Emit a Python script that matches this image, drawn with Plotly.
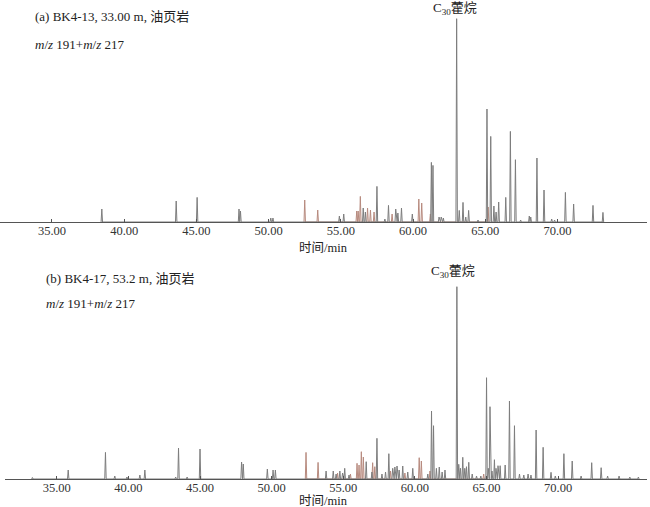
import plotly.graph_objects as go

# ---------------- data (retention time / min, relative intensity) ----------------
# Panel (a) BK4-13, m/z 191 (grey) and m/z 217 (brown)
a191_t = [38.45, 43.6, 45.05, 47.95, 48.05, 50.15, 50.3, 54.9, 55.2, 56.55, 56.7,
          57.5, 58.05, 58.3, 58.8, 58.95, 59.2, 59.95, 61.27, 61.38, 61.8, 61.95, 62.1,
          63.02, 63.2, 63.46, 63.65, 63.85, 64.5, 65.12, 65.38, 65.6, 65.75, 65.93,
          66.42, 66.74, 67.09, 67.45, 68.05, 68.15, 68.58, 69.07, 69.6, 69.8, 70.55,
          71.12, 72.46, 73.15]
a191_h = [13, 21, 24.6, 13, 11, 4, 4, 6, 8, 14, 10,
          35.6, 3, 16.6, 13, 9, 14, 8, 59.6, 56.6, 5, 5, 4,
          203.3, 11.6, 19.6, 5, 11.6, 2, 113, 85.6, 16, 10, 20,
          24.6, 90.6, 62.3, 2, 6, 5, 64, 32, 3, 2, 29.6,
          18, 16.6, 9.6]
a217_t = [52.5, 53.4, 56.1, 56.2, 56.35, 56.85, 57.05, 57.3, 58.55, 60.4, 60.6, 61.2, 65.2]
a217_h = [22, 12, 11, 11, 25.6, 14, 12, 10, 8, 23, 19, 8, 15]

# Panel (b) BK4-17, m/z 191 (grey) and m/z 217 (brown)
b191_t = [33.3, 35.8, 38.4, 39.05, 39.9, 40.8, 41.15, 43.3, 43.5, 44.1, 45.0, 47.9, 48.02,
          49.7, 50.1, 50.26, 53.8, 54.3, 54.5, 54.76, 54.95, 55.1, 55.4, 56.6, 57.0, 57.35,
          57.7, 57.95, 58.18, 58.45, 58.6, 58.75, 58.9, 59.15, 59.5, 59.85, 60.9,
          61.16, 61.3, 61.5, 61.7, 61.9, 62.1, 62.93, 63.06, 63.18, 63.34, 63.48, 63.6,
          63.76, 64.0, 64.3, 64.6, 65.0, 65.12, 65.24, 65.38, 65.55, 65.66, 65.8, 65.95,
          66.3, 66.6, 66.95, 67.3, 67.6, 67.9, 68.1, 68.46, 68.95, 69.5, 69.8, 70.4,
          70.98, 71.6, 72.34, 73.0, 73.45, 74.25, 75.0, 75.6]
b191_h = [1.5, 9, 26.6, 3, 2, 4, 9, 2, 31, 2, 30, 17, 15,
          10, 9, 9, 8, 8, 5, 8, 6, 10.7, 4, 17.3, 7, 40.7,
          5, 7, 25.3, 10.7, 12, 13, 9, 13, 7, 10.7, 5,
          68, 53.3, 10.7, 12, 7, 9, 192.3, 14.7, 10.7, 21.7, 10.7, 12.3,
          16.7, 5, 3, 3, 101.3, 10.7, 72.3, 8, 19.3, 10.7, 13.3, 13.3,
          14, 78, 53.3, 5, 4, 5, 4, 49, 31.7, 6.7, 3, 25.3,
          18, 3, 16.3, 11.3, 3, 3, 2, 2]
b217_t = [52.4, 53.24, 54.6, 55.5, 55.96, 56.1, 56.26, 56.4, 57.05, 57.2, 58.3, 59.3,
          60.3, 60.45, 61.05, 64.8]
b217_h = [26.6, 16.6, 6, 5, 15.7, 14, 27.3, 22, 16.3, 12.3, 8, 6,
          21.3, 18, 8, 5]

x_ticks = [35, 40, 45, 50, 55, 60, 65, 70]
x_tick_text = ["35.00", "40.00", "45.00", "50.00", "55.00", "60.00", "65.00", "70.00"]

GREY = "#7d7d7d"
BROWN = "#b78a7e"
HALF_W = 0.05  # peak half width (style)


def peak_line(ts, hs):
    pairs = sorted(zip(ts, hs))
    xs, ys = [], []
    for t, h in pairs:
        xs += [t - HALF_W, t, t + HALF_W]
        ys += [0, h, 0]
    return xs, ys


fig = go.Figure()
for ts, hs, col, xa, ya in [
    (a217_t, a217_h, BROWN, "x", "y"),
    (a191_t, a191_h, GREY, "x", "y"),
    (b217_t, b217_h, BROWN, "x2", "y2"),
    (b191_t, b191_h, GREY, "x2", "y2"),
]:
    xs, ys = peak_line(ts, hs)
    fig.add_trace(go.Scatter(x=xs, y=ys, mode="lines", line=dict(color=col, width=1),
                             xaxis=xa, yaxis=ya, showlegend=False, hoverinfo="skip"))

H = 507
def yf(px):
    return 1 - px / H

xax = dict(range=[31.4, 76.2], tickvals=x_ticks, ticktext=x_tick_text, showgrid=False,
           zeroline=False, showline=True, linecolor="#555", linewidth=1,
           ticks="inside", ticklen=3, tickcolor="#555", automargin=False,
           ticklabelstandoff=-3,
           tickfont=dict(family="Liberation Serif", size=12.5, color="#333"))
yax = dict(range=[0, 220], visible=False, showgrid=False, zeroline=False)

fig.update_layout(
    width=650, height=507, margin=dict(l=0, r=3, t=0, b=0),
    paper_bgcolor="white", plot_bgcolor="white",
    xaxis=dict(xax, domain=[0, 1], anchor="y"),
    yaxis=dict(yax, domain=[yf(222), yf(2)], anchor="x"),
    xaxis2=dict(xax, domain=[0.008, 1], anchor="y2"),
    yaxis2=dict(yax, domain=[yf(479), yf(259)], anchor="x2"),
)

font_serif = dict(family="Liberation Serif, Noto Sans CJK SC", size=13, color="#222")
ann = [
    (33, 17, "(a) BK4-13, 33.00 m, 油页岩", "left", 13),
    (33, 44, "<i>m</i>/<i>z</i> 191+<i>m</i>/<i>z</i> 217", "left", 13),
    (457, 9, "C<sub>30</sub>藿烷", "center", 13),
    (325, 248, "时间/min", "center", 12.5),
    (44, 278, "(b) BK4-17, 53.2 m, 油页岩", "left", 13),
    (44, 303, "<i>m</i>/<i>z</i> 191+<i>m</i>/<i>z</i> 217", "left", 13),
    (455, 271, "C<sub>30</sub>藿烷", "center", 13),
    (325, 501, "时间/min", "center", 12.5),
]
for x, y, txt, al, fs in ann:
    fig.add_annotation(x=x / 650, y=yf(y), xref="paper", yref="paper", text=txt,
                       showarrow=False, xanchor=al, yanchor="middle",
                       font=dict(font_serif, size=fs))

fig.write_html("out.html", config={"displayModeBar": False},
               post_script="document.body.style.margin='0';")
